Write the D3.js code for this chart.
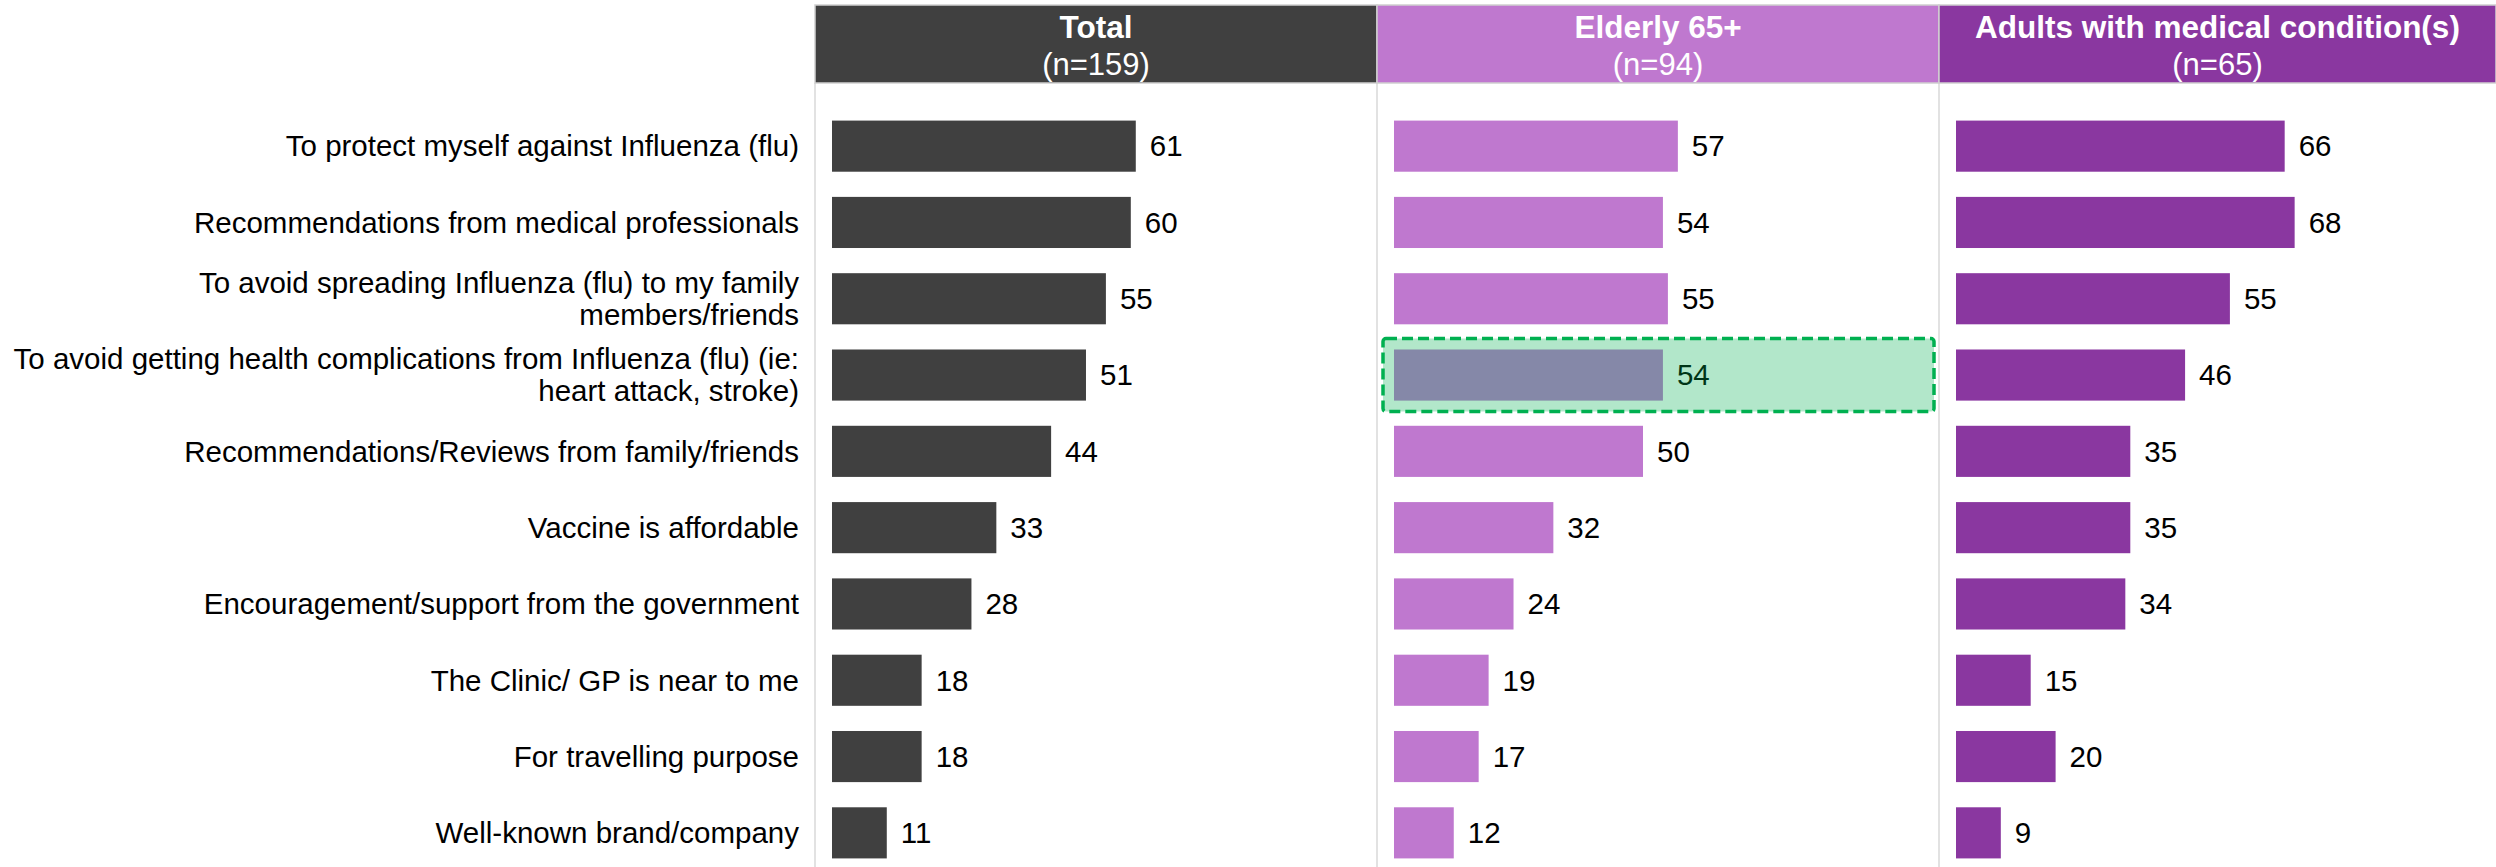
<!DOCTYPE html>
<html>
<head>
<meta charset="utf-8">
<script src="https://cdn.jsdelivr.net/npm/d3@7/dist/d3.min.js"></script>
<style>
  html, body { margin: 0; padding: 0; background: #fff; }
  svg { display: block; font-family: "Liberation Sans", Arial, sans-serif; }
</style>
</head>
<body>
<svg id="chart" width="2496" height="867"></svg>
<script>
// Reasons for getting the flu vaccine (%), by respondent group
const categories = [
  ["To protect myself against Influenza (flu)"],
  ["Recommendations from medical professionals"],
  ["To avoid spreading Influenza (flu) to my family", "members/friends"],
  ["To avoid getting health complications from Influenza (flu) (ie:", "heart attack, stroke)"],
  ["Recommendations/Reviews from family/friends"],
  ["Vaccine is affordable"],
  ["Encouragement/support from the government"],
  ["The Clinic/ GP is near to me"],
  ["For travelling purpose"],
  ["Well-known brand/company"]
];
const groupTitles = ["Total", "Elderly 65+", "Adults with medical condition(s)"];
const groupSizes = ["(n=159)", "(n=94)", "(n=65)"];
const totalValues = [61, 60, 55, 51, 44, 33, 28, 18, 18, 11];
const elderlyValues = [57, 54, 55, 54, 50, 32, 24, 19, 17, 12];
const adultValues = [66, 68, 55, 46, 35, 35, 34, 15, 20, 9];
const groupColors = ["#404040", "#BF78CF", "#8A37A0"];
// highlighted cell: group index, category index
const highlight = { group: 1, row: 3 };

const groups = groupTitles.map((t, i) => ({
  title: t,
  n: groupSizes[i],
  color: groupColors[i],
  values: [totalValues, elderlyValues, adultValues][i]
}));

const W = 2496, H = 867;
const svg = d3.select("#chart");

const panelX = d3.scalePoint().domain(d3.range(groups.length)).range([815, 1939]);
const panelRight = i => i < groups.length - 1 ? panelX(i + 1) : W;

const y = d3.scaleBand()
  .domain(d3.range(categories.length))
  .range([108, 871])
  .paddingInner(0.33)
  .paddingOuter(0.165);

const x = d3.scaleLinear().domain([0, 100]).range([0, 498]);

const headerTop = 5, headerBottom = 83;

// panel dividers
svg.append("g").selectAll("line")
  .data(d3.range(groups.length))
  .join("line")
  .attr("x1", i => panelX(i)).attr("x2", i => panelX(i))
  .attr("y1", headerBottom).attr("y2", H)
  .attr("stroke", "#d9d9d9").attr("stroke-width", 1.5);

// headers
const head = svg.append("g").selectAll("g")
  .data(groups)
  .join("g");

head.append("rect")
  .attr("x", (d, i) => panelX(i))
  .attr("y", headerTop)
  .attr("width", (d, i) => panelRight(i) - panelX(i))
  .attr("height", headerBottom - headerTop)
  .attr("fill", d => d.color)
  .attr("stroke", "#d0d0d0").attr("stroke-width", 1.5);

head.append("text")
  .attr("x", (d, i) => (panelX(i) + panelRight(i)) / 2)
  .attr("y", 37.5)
  .attr("text-anchor", "middle")
  .attr("fill", "#fff")
  .attr("font-weight", "bold")
  .attr("font-size", 31.5)
  .text(d => d.title);

head.append("text")
  .attr("x", (d, i) => (panelX(i) + panelRight(i)) / 2)
  .attr("y", 75)
  .attr("text-anchor", "middle")
  .attr("fill", "#fff")
  .attr("font-size", 31)
  .text(d => d.n);

// category labels
const lineGap = 32;
const labels = svg.append("g").selectAll("text")
  .data(categories)
  .join("text")
  .attr("text-anchor", "end")
  .attr("font-size", 29.5)
  .attr("fill", "#000");
labels.each(function (lines, i) {
  const cy = y(i) + y.bandwidth() / 2;
  const t = d3.select(this);
  lines.forEach((ln, k) => {
    t.append("tspan")
      .attr("x", 799)
      .attr("y", cy + (k - (lines.length - 1) / 2) * lineGap)
      .attr("dy", "0.35em")
      .text(ln);
  });
});

// bars and value labels
groups.forEach((g, gi) => {
  const x0 = panelX(gi) + 17;
  const gg = svg.append("g");
  gg.selectAll("rect")
    .data(g.values)
    .join("rect")
    .attr("x", x0)
    .attr("y", (d, i) => y(i))
    .attr("width", d => x(d))
    .attr("height", y.bandwidth())
    .attr("fill", g.color);
  gg.selectAll("text")
    .data(g.values)
    .join("text")
    .attr("x", d => x0 + x(d) + 14)
    .attr("y", (d, i) => y(i) + y.bandwidth() / 2)
    .attr("dy", "0.35em")
    .attr("font-size", 29.5)
    .attr("fill", "#000")
    .text(d => d);
});

// highlight box over one cell
svg.append("rect")
  .attr("x", panelX(highlight.group) + 6)
  .attr("y", y(highlight.row) - 11)
  .attr("width", panelRight(highlight.group) - panelX(highlight.group) - 11)
  .attr("height", y.bandwidth() + 22)
  .attr("rx", 3)
  .attr("fill", "rgba(0,176,80,0.3)")
  .attr("stroke", "#00B050")
  .attr("stroke-width", 3.5)
  .attr("stroke-dasharray", "11,5");
</script>
</body>
</html>
